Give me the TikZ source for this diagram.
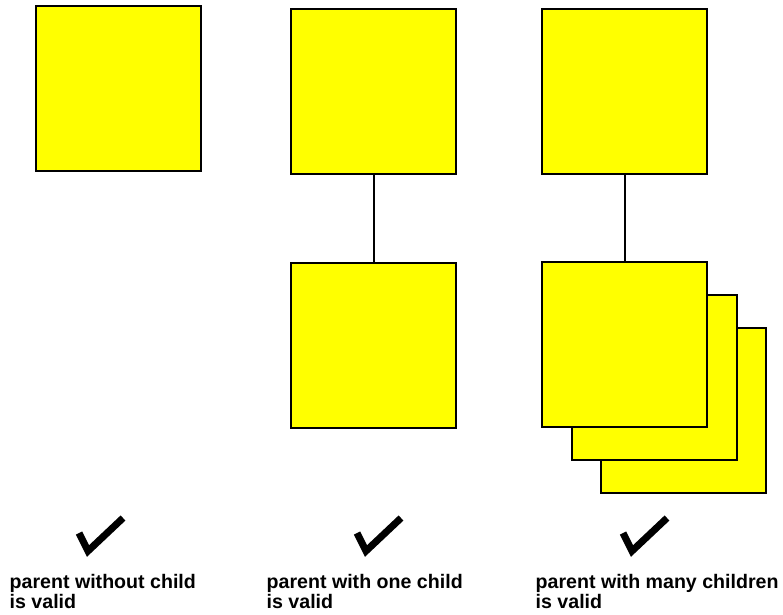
\documentclass[tikz,border=0pt]{standalone}
\usepackage{fontspec}
\setmainfont{Liberation Sans}
\definecolor{cardfill}{RGB}{255,255,0}
\begin{document}
\begin{tikzpicture}[x=1pt,y=-1pt,
  card/.style={draw=black,line width=2pt,fill=cardfill,minimum width=165pt,minimum height=165pt,inner sep=0pt,outer sep=0pt},
  link/.style={draw=black,line width=2pt},
  tick/.style={draw=black,line width=7pt,line join=miter,line cap=butt},
  caption/.style={anchor=base west,inner sep=0pt,align=left,font=\bfseries\fontsize{19.6}{20}\selectfont}]
\useasboundingbox (0,0) rectangle (783,614);
% first column: a lone parent
\node[card] (a) at (118.5,88.5) {};
% second column: parent with a single child
\node[card] (bp) at (373.5,91.5) {};
\node[card] (bc) at (373.5,345.5) {};
\draw[link] (bp.south) -- (bc.north);
% third column: parent with a stack of children
\node[card] (cc3) at (683.5,410.5) {};
\node[card] (cc2) at (654.5,377.5) {};
\node[card] (cc1) at (624.5,344.5) {};
\node[card] (cp) at (624.5,91.5) {};
\draw[link] (cp.south) -- (cc1.north);
% check marks
\coordinate (t1a) at (79,533);
\coordinate (t1b) at (88,551);
\coordinate (t1c) at (123,518);
\draw[tick] (t1a) -- (t1b) -- (t1c);
\coordinate (t2a) at (357,533);
\coordinate (t2b) at (366,551);
\coordinate (t2c) at (401,518);
\draw[tick] (t2a) -- (t2b) -- (t2c);
\coordinate (t3a) at (623,533);
\coordinate (t3b) at (632,551);
\coordinate (t3c) at (667,518);
\draw[tick] (t3a) -- (t3b) -- (t3c);
% captions (anchored on the baseline of the last line)
\node[caption] (la) at (9.5,608) {parent without child\\is valid};
\node[caption] (lb) at (266.5,608) {parent with one child\\is valid};
\node[caption] (lc) at (535.5,608) {parent with many children\\is valid};
\end{tikzpicture}
\end{document}
